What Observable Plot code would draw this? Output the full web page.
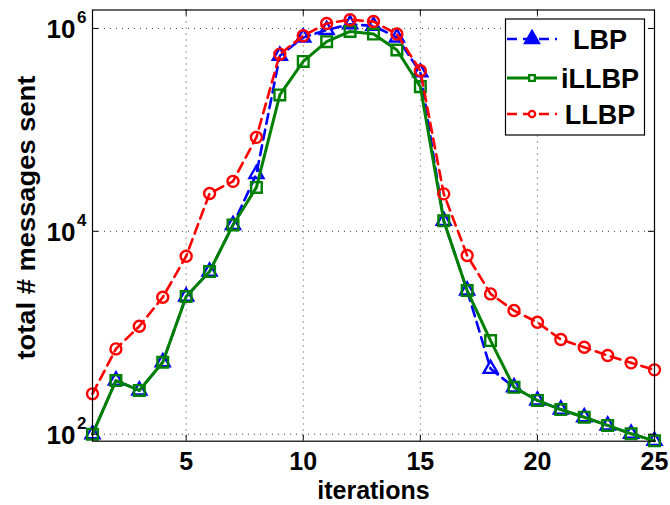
<!DOCTYPE html>
<html><head><meta charset="utf-8">
<script src="https://cdn.jsdelivr.net/npm/d3@7"></script>
<script src="https://cdn.jsdelivr.net/npm/@observablehq/plot@0.6"></script>
<style>
html,body{margin:0;padding:0;background:#fff;}
#chart{width:670px;height:505px;}
</style></head><body><div id="chart"></div>
<script>
const iterations = [1,2,3,4,5,6,7,8,9,10,11,12,13,14,15,16,17,18,19,20,21,22,23,24,25];
const lbp   = [100,338,270,512,2274,4009,11560,36800,538000,815000,965000,1100000,1060000,815000,369000,12700,2608,441,290,215,175,147,122,101,86];
const illbp = [100,338,270,512,2274,4009,11560,27100,221000,473000,740000,934000,881000,613000,267000,12700,2608,837,290,215,175,147,122,101,86];
const llbp  = [250,693,1159,2239,5677,23600,31100,84400,558000,847000,1120000,1220000,1170000,881000,383000,23400,5770,2415,1656,1268,857,720,596,505,431];
const seriesNames  = ["LBP","iLLBP","LLBP"];
const seriesColors = ["#0000ff","#008000","#ff0000"];
const xTicks = [5,10,15,20,25];
const xGrid  = [5,10,15,20];
const yTicks = [1e2,1e4,1e6];
const yTickExp = ["2","4","6"];
const xLabel = "iterations";
const yLabel = "total # messages sent";

const W = 670, H = 505;
const mL = 92, mR = 16, mT = 9.5, mB = 64.3;
const pW = W - mL - mR, pH = H - mT - mB;
const font = "'Liberation Sans', Arial, Helvetica, sans-serif";

const toRows = vals => iterations.map((x, i) => ({x, y: vals[i]}));
const dLBP = toRows(lbp), dIL = toRows(illbp), dLL = toRows(llbp);

const plot = Plot.plot({
  width: W, height: H,
  marginLeft: mL, marginRight: mR, marginTop: mT, marginBottom: mB,
  style: {fontFamily: font, background: "white", color: "black"},
  x: {domain: [1, 25], axis: null},
  y: {type: "log", domain: [85.3, 1.52e6], axis: null},
  marks: [
    Plot.gridX(xGrid, {stroke: "#000", strokeOpacity: 0.75, strokeDasharray: "1,5", strokeWidth: 1}),
    Plot.gridY(yTicks, {stroke: "#000", strokeOpacity: 0.75, strokeDasharray: "1,5", strokeWidth: 1}),
    // LBP
    Plot.line(dLBP, {x: "x", y: "y", stroke: seriesColors[0], strokeWidth: 2.6, strokeDasharray: "10,6"}),
    Plot.dot(dLBP, {x: "x", y: "y", symbol: "triangle", r: 5.2, stroke: seriesColors[0], strokeWidth: 2.4, fill: "none"}),
    // iLLBP
    Plot.line(dIL, {x: "x", y: "y", stroke: seriesColors[1], strokeWidth: 3}),
    Plot.dot(dIL, {x: "x", y: "y", symbol: "square", r: 6, stroke: seriesColors[1], strokeWidth: 2.4, fill: "none"}),
    // LLBP
    Plot.line(dLL, {x: "x", y: "y", stroke: seriesColors[2], strokeWidth: 2.6, strokeDasharray: "10,6"}),
    Plot.dot(dLL, {x: "x", y: "y", symbol: "circle", r: 5.5, stroke: seriesColors[2], strokeWidth: 2.4, fill: "none"}),
    // inward ticks on all four sides
    Plot.tickX(xTicks, {x: d => d, insetTop: pH - 6, stroke: "#000"}),
    Plot.tickX(xTicks, {x: d => d, insetBottom: pH - 6, stroke: "#000"}),
    Plot.tickY(yTicks, {y: d => d, insetRight: pW - 6, stroke: "#000"}),
    Plot.tickY(yTicks, {y: d => d, insetLeft: pW - 6, stroke: "#000"}),
    Plot.frame({stroke: "#000", strokeWidth: 1.2}),
    // tick labels
    Plot.text(xTicks, {x: d => d, frameAnchor: "bottom", dy: 21, text: d => String(d), fontSize: 25, fontWeight: "bold", lineAnchor: "middle", fill: "#000"}),
    Plot.text(yTicks, {y: d => d, frameAnchor: "left", dx: -17, dy: 1, text: () => "10", textAnchor: "end", fontSize: 26, fontWeight: "bold", lineAnchor: "middle", fill: "#000"}),
    Plot.text(yTicks, {y: d => d, frameAnchor: "left", dx: -15.5, dy: -10.5, text: (d, i) => yTickExp[i], textAnchor: "start", fontSize: 17, fontWeight: "bold", lineAnchor: "middle", fill: "#000"}),
    // axis labels
    Plot.text([xLabel], {frameAnchor: "bottom", dy: 49.5, text: d => d, fontSize: 25, fontWeight: "bold", lineAnchor: "middle", fill: "#000"}),
    Plot.text([yLabel], {frameAnchor: "left", dx: -66, dy: -8, text: d => d, fontSize: 25, fontWeight: "bold", rotate: -90, textAnchor: "middle", lineAnchor: "middle", fill: "#000", className: "ylabel"})
  ]
});
document.getElementById("chart").appendChild(plot);

// stretch y label to the reference's length
d3.select(plot).selectAll("g.ylabel text")
  .attr("textLength", 284).attr("lengthAdjust", "spacingAndGlyphs");

// legend
const svg = d3.select(plot);
const lg = svg.append("g").attr("font-family", font);
lg.append("rect").attr("x", 505.5).attr("y", 19).attr("width", 139).attr("height", 116)
  .attr("fill", "white").attr("stroke", "black").attr("stroke-width", 1.2);
const rowsY = [39, 78, 114];
const symbols = [d3.symbolTriangle, d3.symbolSquare, d3.symbolCircle];
const sizes = [Math.PI * 5.2 * 5.2, Math.PI * 3.2 * 3.2, Math.PI * 3.2 * 3.2];
const dashes = ["10,6", null, "10,6"];
const widths = [2.6, 3, 2.6];
seriesNames.forEach((name, i) => {
  const y = rowsY[i];
  const ln = lg.append("line").attr("x1", 507).attr("x2", 557).attr("y1", y).attr("y2", y)
    .attr("stroke", seriesColors[i]).attr("stroke-width", widths[i]);
  if (dashes[i]) ln.attr("stroke-dasharray", dashes[i]);
  lg.append("path").attr("d", d3.symbol(symbols[i], sizes[i])())
    .attr("transform", `translate(532,${y})`)
    .attr("fill", i === 0 ? seriesColors[i] : "white").attr("stroke", seriesColors[i]).attr("stroke-width", 2.2);
  lg.append("text").attr("x", 600).attr("y", y).attr("dy", "0.36em").attr("text-anchor", "middle")
    .attr("font-size", 27).attr("font-weight", "bold").attr("fill", "black").text(name);
});
</script></body></html>
